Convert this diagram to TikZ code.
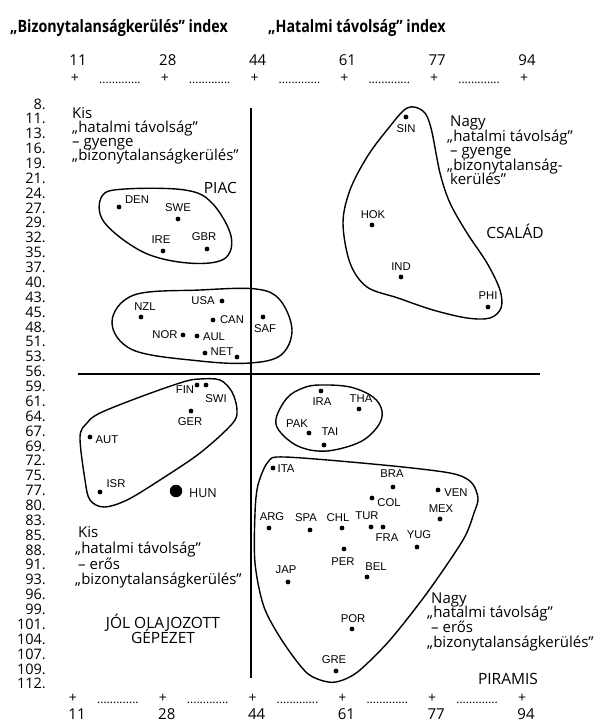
\documentclass[tikz,border=0pt]{standalone}
\usepackage{fontspec}
\setmainfont{Open Sans}
\newfontfamily\labfont{Liberation Sans}
\tikzset{
  pt/.style={circle, fill=black, inner sep=0pt, minimum size=4.8pt},
  bigpt/.style={circle, fill=black, inner sep=0pt, minimum size=12.5pt},
  cl/.style={font=\labfont\fontsize{11.3}{12}\selectfont, inner sep=0pt},
  body/.style={font=\fontsize{15}{15}\selectfont, inner sep=0pt, anchor=base west},
  caps/.style={font=\fontsize{15.5}{15}\selectfont, inner sep=0pt, anchor=base},
  rowlab/.style={font=\fontsize{14.5}{15}\selectfont, inner sep=0pt, anchor=base east},
  axnum/.style={font=\fontsize{15}{15}\selectfont, inner sep=0pt, anchor=base},
  plussign/.style={font=\fontsize{14}{15}\selectfont, inner sep=0pt, anchor=center},
  dotrow/.style={font=\fontsize{12}{12}\selectfont, inner sep=0pt, anchor=base},
  title/.style={font=\bfseries\fontsize{17}{17}\selectfont, inner sep=0pt, anchor=base west},
  grp/.style={line width=1.4pt, line join=round},
  axisline/.style={line width=1.8pt}
}
\begin{document}
\begin{tikzpicture}[x=1pt,y=-1pt]
\useasboundingbox (0,0) rectangle (600,724);
\fill[white] (0,0) rectangle (600,724);

% titles
\node[title] (t1) at (10,32) {\scalebox{0.84}[1]{„Bizonytalanságkerülés” index}};
\node[title] (t2) at (268,32) {\scalebox{0.84}[1]{„Hatalmi távolság” index}};

% horizontal axis labels
\foreach \v [count=\k from 0] in {11,28,44,61,77,94} {
  \node[axnum] (tn\k) at ({75+89.8*\k+3},65.5) {\v};
  \node[plussign] (tp\k) at ({75+89.8*\k},78) {+};
  \node[plussign] (bp\k) at ({73+89.8*\k},698) {+};
  \node[axnum] (bn\k) at ({73+89.8*\k+4},719) {\v};
}
\foreach \k in {0,...,4} {
  \node[dotrow] (td\k) at ({75+89.8*\k+44.9},83) {.............};
  \node[dotrow] (bd\k) at ({73+89.8*\k+44.9},703) {.............};
}

% vertical axis labels
\foreach \v [count=\k from 0] in {8,11,13,16,19,21,24,27,29,32,35,37,40,43,45,48,51,53,56,59,61,64,67,69,72,75,77,80,83,85,88,91,93,96,99,101,104,107,109,112} {
  \node[rowlab] (r\k) at (46,{104+14.87*\k+5}) {\v.};
}

% axes
\draw[axisline] (251,108) -- (251,678);
\draw[line width=1.5pt] (78,374) -- (540,374);

% quadrant texts
\node[body] (ul1) at (72,118) {Kis};
\node[body] (ul2) at (72,132) {„hatalmi távolság”};
\node[body] (ul3) at (72,146) {– gyenge};
\node[body] (ul4) at (72,160) {„bizonytalanságkerülés”};
\node[caps, anchor=base east] (piac) at (237,193.5) {PIAC};

\node[body] (ur1) at (450,126.5) {Nagy};
\node[body] (ur2) at (447,141) {„hatalmi távolság”};
\node[body] (ur3) at (450,155.5) {– gyenge};
\node[body] (ur4) at (447,170) {„bizonytalanság-};
\node[body] (ur5) at (450,184.5) {kerülés”};
\node[caps] (csalad) at (515,238.5) {CSALÁD};

\node[body] (ll1) at (78,537) {Kis};
\node[body] (ll2) at (75,553) {„hatalmi távolság”};
\node[body] (ll3) at (78,569) {– erős};
\node[body] (ll4) at (75,584.5) {„bizonytalanságkerülés”};
\node[caps] (jol1) at (163,628.5) {JÓL OLAJOZOTT};
\node[caps] (jol2) at (163,643.5) {GÉPEZET};

\node[body] (lr1) at (431,603) {Nagy};
\node[body] (lr2) at (427,617.5) {„hatalmi távolság”};
\node[body] (lr3) at (431,632) {– erős};
\node[body] (lr4) at (427,647) {„bizonytalanságkerülés”};
\node[caps] (piramis) at (508,684.5) {PIRAMIS};

% group outlines
\draw[grp] plot[smooth cycle, tension=0.6] coordinates {
  (102,196) (125,189) (185,190) (212,203) (231,236) (224,259) (188,263) (143,252) (104,222)};
\draw[grp] plot[smooth cycle, tension=0.6] coordinates {
  (112,322) (134,295) (200,290) (256,289) (280,300) (292,330) (281,355) (250,363) (200,361) (133,350)};
\draw[grp] plot[smooth cycle, tension=0.55] coordinates {
  (407,108) (423,111) (431,128) (440,173) (450,203) (467,233) (487,263) (500,290) (501,308) (490,318) (467,318) (433,310) (398,298) (367,287) (350,263) (343,223) (350,190) (367,157) (387,130)};
\draw[grp] plot[smooth cycle, tension=0.55] coordinates {
  (200,379) (220,380) (232,392) (237,410) (232,424) (200,453) (160,480) (127,500) (104,507) (90,500) (85,480) (80,437) (87,423) (100,413) (140,397) (183,382)};
\draw[grp] plot[smooth cycle, tension=0.6] coordinates {
  (320,385) (350,387) (373,397) (382,411) (378,426) (360,442) (327,451) (300,447) (281,433) (276,419) (287,398) (303,388)};
\draw[grp] plot[smooth cycle, tension=0.5] coordinates {
  (268,462) (285,457) (383,465) (450,473) (471,482) (478,498) (474,513) (463,540) (427,593) (390,640) (360,670) (343,680) (328,682) (307,673) (283,642) (264,607) (255,563) (255,513) (258,485)};

% country points
\node[pt] (DEN) at (119,207) {}; \node[cl] (DENl) at (137,200) {DEN};
\node[pt] (SWE) at (178,219) {}; \node[cl] (SWEl) at (178,208) {SWE};
\node[pt] (IRE) at (163,251) {}; \node[cl] (IREl) at (161,240) {IRE};
\node[pt] (GBR) at (207,249) {}; \node[cl] (GBRl) at (204,237) {GBR};

\node[pt] (SIN) at (406,117) {}; \node[cl] (SINl) at (406,129) {SIN};
\node[pt] (HOK) at (372,225) {}; \node[cl] (HOKl) at (373,215) {HOK};
\node[pt] (IND) at (401,277) {}; \node[cl] (INDl) at (401,267) {IND};
\node[pt] (PHI) at (488,307) {}; \node[cl] (PHIl) at (488,296) {PHI};

\node[pt] (NZL) at (141,317) {}; \node[cl] (NZLl) at (145,307) {NZL};
\node[pt] (USA) at (222,301) {}; \node[cl] (USAl) at (203,301) {USA};
\node[pt] (CAN) at (213,320) {}; \node[cl] (CANl) at (232,320) {CAN};
\node[pt] (NOR) at (183,335) {}; \node[cl] (NORl) at (165,335) {NOR};
\node[pt] (AUL) at (197,336) {}; \node[cl] (AULl) at (214,337) {AUL};
\node[pt] (NET) at (205,353) {}; \node[cl] (NETl) at (222,352) {NET};
\node[pt] (NET2) at (237,357) {};
\node[pt] (SAF) at (263,317) {}; \node[cl] (SAFl) at (265,329) {SAF};

\node[pt] (FIN) at (197,385) {}; \node[cl] (FINl) at (185,390) {FIN};
\node[pt] (SWI) at (206,385) {}; \node[cl] (SWIl) at (216,399) {SWI};
\node[pt] (GER) at (191,411) {}; \node[cl] (GERl) at (190,422) {GER};
\node[pt] (AUT) at (90,437) {};  \node[cl] (AUTl) at (107,440) {AUT};
\node[pt] (ISR) at (100,492) {}; \node[cl] (ISRl) at (116,484) {ISR};
\node[bigpt] (HUN) at (176,491) {};
\node[font=\fontsize{12.5}{13}\selectfont, inner sep=0pt] (HUNl) at (203,493) {HUN};

\node[pt] (IRA) at (321,391) {}; \node[cl] (IRAl) at (322,402) {IRA};
\node[pt] (THA) at (359,409) {}; \node[cl] (THAl) at (361,399) {THA};
\node[pt] (PAK) at (309,433) {}; \node[cl] (PAKl) at (297,424) {PAK};
\node[pt] (TAI) at (324,445) {}; \node[cl] (TAIl) at (330,432) {TAI};

\node[pt] (ITA) at (273,468) {}; \node[cl] (ITAl) at (286,469) {ITA};
\node[pt] (BRA) at (393,487) {}; \node[cl] (BRAl) at (392,474) {BRA};
\node[pt] (VEN) at (438,490) {}; \node[cl] (VENl) at (456,493) {VEN};
\node[pt] (COL) at (372,498) {}; \node[cl] (COLl) at (389,503) {COL};
\node[pt] (MEX) at (440,519) {}; \node[cl] (MEXl) at (441,509) {MEX};
\node[pt] (ARG) at (269,528) {}; \node[cl] (ARGl) at (272,517) {ARG};
\node[pt] (SPA) at (310,530) {}; \node[cl] (SPAl) at (306,518) {SPA};
\node[pt] (CHL) at (342,528) {}; \node[cl] (CHLl) at (338,518) {CHL};
\node[pt] (TUR) at (371,527) {}; \node[cl] (TURl) at (367,516) {TUR};
\node[pt] (FRA) at (383,527) {}; \node[cl] (FRAl) at (387,538) {FRA};
\node[pt] (YUG) at (417,547) {}; \node[cl] (YUGl) at (419,535) {YUG};
\node[pt] (PER) at (344,549) {}; \node[cl] (PERl) at (343,562) {PER};
\node[pt] (BEL) at (367,577) {}; \node[cl] (BELl) at (376,567) {BEL};
\node[pt] (JAP) at (288,582) {}; \node[cl] (JAPl) at (286,570) {JAP};
\node[pt] (POR) at (352,629) {}; \node[cl] (PORl) at (353,619) {POR};
\node[pt] (GRE) at (336,671) {}; \node[cl] (GREl) at (334,660) {GRE};
\end{tikzpicture}
\end{document}
